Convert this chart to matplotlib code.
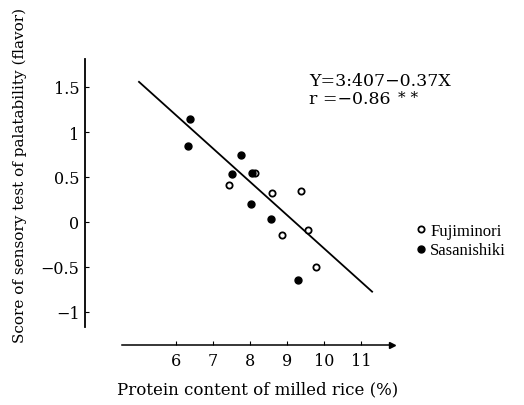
import matplotlib
matplotlib.use('Agg')
import matplotlib.pyplot as plt
import numpy as np

plt.rcParams['font.family'] = ['DejaVu Serif']

# Fujiminori (open circles)
fuji_x = [8.14, 7.43, 8.60, 9.39, 9.56, 8.86, 9.78]
fuji_y = [0.54, 0.41, 0.32, 0.34, -0.09, -0.14, -0.50]

# Sasanishiki (filled circles)
sasa_x = [6.38, 6.32, 7.75, 7.50, 8.05, 8.04, 8.58, 9.31]
sasa_y = [1.14, 0.84, 0.74, 0.53, 0.55, 0.20, 0.03, -0.64]

# regression line Y = a + bX, drawn between these x values
reg_a, reg_b = 3.407, -0.37
reg_x = [5.0, 11.3]

xticks = [6, 7, 8, 9, 10, 11]
yticks = [-1, -0.5, 0, 0.5, 1, 1.5]
ytick_labels = ['\u22121', '\u22120.5', '0', '0.5', '1', '1.5']

fig = plt.figure(figsize=(5.24, 4.06), dpi=100)
W, H = 524, 406
ax = fig.add_axes([79.8 / W, (H - 353.5) / H, 318.2 / W, 297 / H])
ax.set_xlim(3.4, 12.0)
ax.set_ylim(-1.45, 1.85)

# regression line
rx = np.array(reg_x)
ax.plot(rx, reg_a + reg_b * rx, color='black', lw=1.3)

ax.plot(fuji_x, fuji_y, 'o', mfc='white', mec='black', mew=1.3, ms=4.5,
        label='Fujiminori', linestyle='none')
ax.plot(sasa_x, sasa_y, 'o', color='black', ms=5,
        label='Sasanishiki', linestyle='none')

# detached axes like the scanned figure
ax.spines['top'].set_visible(False)
ax.spines['right'].set_visible(False)
ax.spines['left'].set_position(('data', 3.54))
ax.spines['left'].set_bounds(-1.17, 1.81)
ax.spines['bottom'].set_position(('data', -1.37))
ax.spines['bottom'].set_bounds(4.54, 11.85)
ax.spines['left'].set_linewidth(1.3)
ax.spines['bottom'].set_linewidth(1.1)
ax.plot([11.85], [-1.37], '>', color='black', ms=4, clip_on=False)

ax.set_xticks(xticks)
ax.set_yticks(yticks)
ax.set_yticklabels(ytick_labels)
ax.tick_params(axis='both', direction='in', length=3, width=0.8,
               labelsize=11.5)
ax.tick_params(axis='y', pad=4)
ax.tick_params(axis='x', pad=5)

ax.set_xlabel('Protein content of milled rice (%)', fontsize=12)
ax.xaxis.set_label_coords(0.56, -0.095)
ax.set_ylabel('Score of sensory test of palatability (flavor)', fontsize=11)
ax.yaxis.set_label_coords(-0.165, 0.60)

ax.text(309 / W, 1 - 81 / H, 'Y=3:407\u22120.37X', transform=fig.transFigure,
        fontsize=12.5, va='center', ha='left')
ax.text(309 / W, 1 - 100 / H, 'r =\u22120.86', transform=fig.transFigure,
        fontsize=12.5, va='center', ha='left')
ax.text(398 / W, 1 - 91 / H, '* *', transform=fig.transFigure,
        fontsize=11, va='top', ha='left')

ax.legend(loc='upper left', bbox_to_anchor=(417 / W, 1 - 224 / H),
          bbox_transform=fig.transFigure, frameon=False,
          prop={'family': 'Liberation Serif', 'size': 12},
          handlelength=0.5, handletextpad=0.3, labelspacing=0.2,
          borderpad=0, borderaxespad=0)

fig.savefig('out.png', dpi=100)
